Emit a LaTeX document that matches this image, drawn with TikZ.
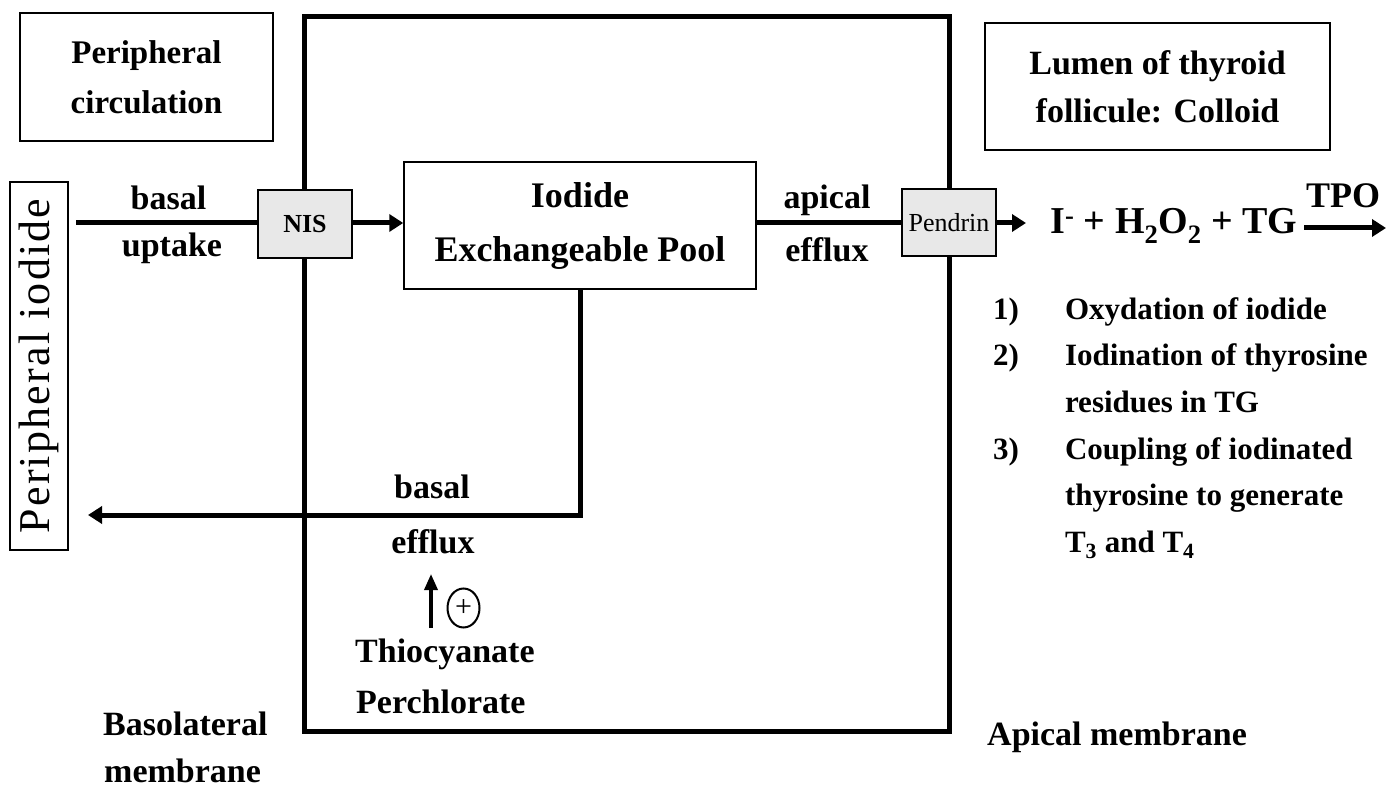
\documentclass[tikz,border=0pt]{standalone}
\usepackage{fontspec}
\setmainfont{Liberation Serif}[BoldFont={Liberation Serif Bold}]
\usetikzlibrary{arrows.meta,shapes.geometric}

\begin{document}
\begin{tikzpicture}[x=1pt,y=-1pt,
  lbl/.style={font=\bfseries\fontsize{34}{48}\selectfont,align=center,inner sep=0pt},
  box/.style={draw,line width=1.5pt,align=center,inner sep=0pt},
  chan/.style={draw,line width=1.5pt,fill=black!9,inner sep=0pt},
  flux/.style={line width=5pt},
  flow/.style={flux,-{Triangle[length=14pt,width=17pt]}},
  frame/.style={line width=5pt}]
\useasboundingbox (0,0) rectangle (1387,791);
\draw[frame] (304,17) rectangle (949,731);
\node[box,lbl,font=\bfseries\fontsize{33}{50}\selectfont,minimum width=253pt,minimum height=128pt] (circ) at (146.5,77) {Peripheral\\circulation};
\node[box,lbl,minimum width=345pt,minimum height=127pt] (lumen) at (1157.5,86.5) {Lumen of thyroid\\follicule: Colloid};
\node[box,rotate=90,minimum width=368pt,minimum height=58pt,font=\fontsize{44}{44}\selectfont\addfontfeature{LetterSpace=5}] (periph) at (39,366) {Peripheral iodide};
\node[chan,minimum width=94pt,minimum height=68pt,font=\bfseries\fontsize{26}{26}\selectfont] (nis) at (305,224) {NIS};
\node[box,lbl,font=\bfseries\fontsize{36}{54}\selectfont,minimum width=352pt,minimum height=127pt] (pool) at (580,225.5) {Iodide\\Exchangeable Pool};
\node[chan,minimum width=94pt,minimum height=67pt,font=\fontsize{26}{26}\selectfont] (pendrin) at (949,222.5) {Pendrin};
\node[lbl,anchor=base west,font=\bfseries\fontsize{38}{38}\selectfont] (eqn) at (1050,234) {I\textsuperscript{-} + H\textsubscript{2}O\textsubscript{2} + TG};
\node[lbl,anchor=base,font=\bfseries\fontsize{36}{36}\selectfont] (tpo) at (1343,208) {TPO};
\coordinate (upt) at (76,223);
\coordinate (effl) at (88,515);
\coordinate (tpoa) at (1304,228);
\coordinate (tpob) at (1386,228);
\coordinate (inha) at (431,628);
\coordinate (inhb) at (431,574);
\draw[flux] (upt) -- (nis.west |- upt);
\draw[flow] (nis.east |- upt) -- (pool.west |- upt);
\draw[flux] (pool.east |- upt) -- (pendrin.west |- upt);
\draw[flow,shorten >=24pt] (pendrin.east |- upt) -- (eqn.west |- upt);
\draw[flow] (tpoa) -- (tpob);
\draw[flow] (pool.south) |- (effl);
\draw[line width=3.5pt,-{Triangle[length=16pt,width=13pt]}] (inha) -- (inhb);
\node[draw,ellipse,line width=2pt,minimum width=32pt,minimum height=39pt,inner sep=0pt,font=\fontsize{30}{30}\selectfont] (plus) at (463.5,608) {+};
\node[lbl,anchor=base] (bup) at (168.5,210) {basal};
\node[lbl,anchor=base] (upl) at (172,257) {uptake};
\node[lbl] (apc) at (827,200) {apical};
\node[lbl] (aef) at (827,250) {efflux};
\node[lbl] (bef) at (432,487) {basal};
\node[lbl] (efl) at (433,542) {efflux};
\node[lbl,anchor=base west] (thio) at (355,662) {Thiocyanate};
\node[lbl,anchor=base west] (perc) at (356,713) {Perchlorate};
\node[lbl,anchor=base west] (baso) at (103,735) {Basolateral};
\node[lbl,anchor=base west] (memb) at (104,782) {membrane};
\node[lbl,anchor=west] (apm) at (987,737) {Apical membrane};
\node[lbl,anchor=west,font=\bfseries\fontsize{31}{46.6}\selectfont] (steps) at (993,426.5) {\begin{tabular}{@{}l@{\hspace{46pt}}l@{}}
1) & Oxydation of iodide\\
2) & Iodination of thyrosine\\
   & residues in TG\\
3) & Coupling of iodinated\\
   & thyrosine to generate\\
   & T\textsubscript{3} and T\textsubscript{4}
\end{tabular}};
\end{tikzpicture}
\end{document}
